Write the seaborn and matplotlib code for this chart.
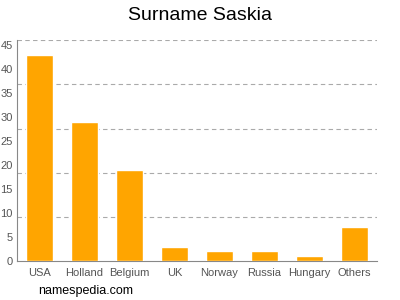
import matplotlib
matplotlib.use("Agg")
import matplotlib.pyplot as plt
import seaborn as sns
import pandas as pd

categories = ["USA", "Holland", "Belgium", "UK", "Norway", "Russia", "Hungary", "Others"]
values = [43, 29, 19, 3, 2, 2, 1, 7]
yticks = [0, 5, 10, 15, 20, 25, 30, 35, 40, 45]
ymax = 46
grid_lines = [ymax * k / 5 for k in range(1, 6)]

sns.set_style("white")
plt.rcParams['font.family'] = ['Liberation Sans', 'DejaVu Sans']

df = pd.DataFrame({"country": categories, "count": values})
fig = plt.figure(figsize=(4, 3), dpi=100)
ax = fig.add_axes([0.0425, 0.13, 0.9, 0.7357])
sns.barplot(data=df, x="country", y="count", color="#FFA500", width=0.62,
            saturation=1, ax=ax, zorder=3)
ax.set_xlim(-0.5, 7.5)
ax.set_ylim(0, ymax)
ax.set_yticks(yticks)
for g in grid_lines:
    ax.axhline(g, color="#aaaaaa", lw=0.8, ls=(0, (4, 3)), zorder=1)
for s in ["top", "right"]:
    ax.spines[s].set_visible(False)
for s in ["left", "bottom"]:
    ax.spines[s].set_color("#888888")
    ax.spines[s].set_linewidth(0.8)
ax.tick_params(axis="y", colors="#888888", length=2.5, width=0.6, labelsize=8,
               labelcolor="#555555", pad=0.5)
ax.tick_params(axis="x", colors="#888888", length=3, width=0.6, labelsize=8,
               labelcolor="#555555", pad=2)
ax.set_xlabel("")
ax.set_ylabel("")
fig.text(0.5, 0.95, "Surname Saskia", ha="center", va="center", fontsize=14, color="#000000")
fig.text(0.095, 0.03, "namespedia.com", ha="left", va="center", fontsize=9, color="#000000")
fig.savefig("out.png", dpi=100)
